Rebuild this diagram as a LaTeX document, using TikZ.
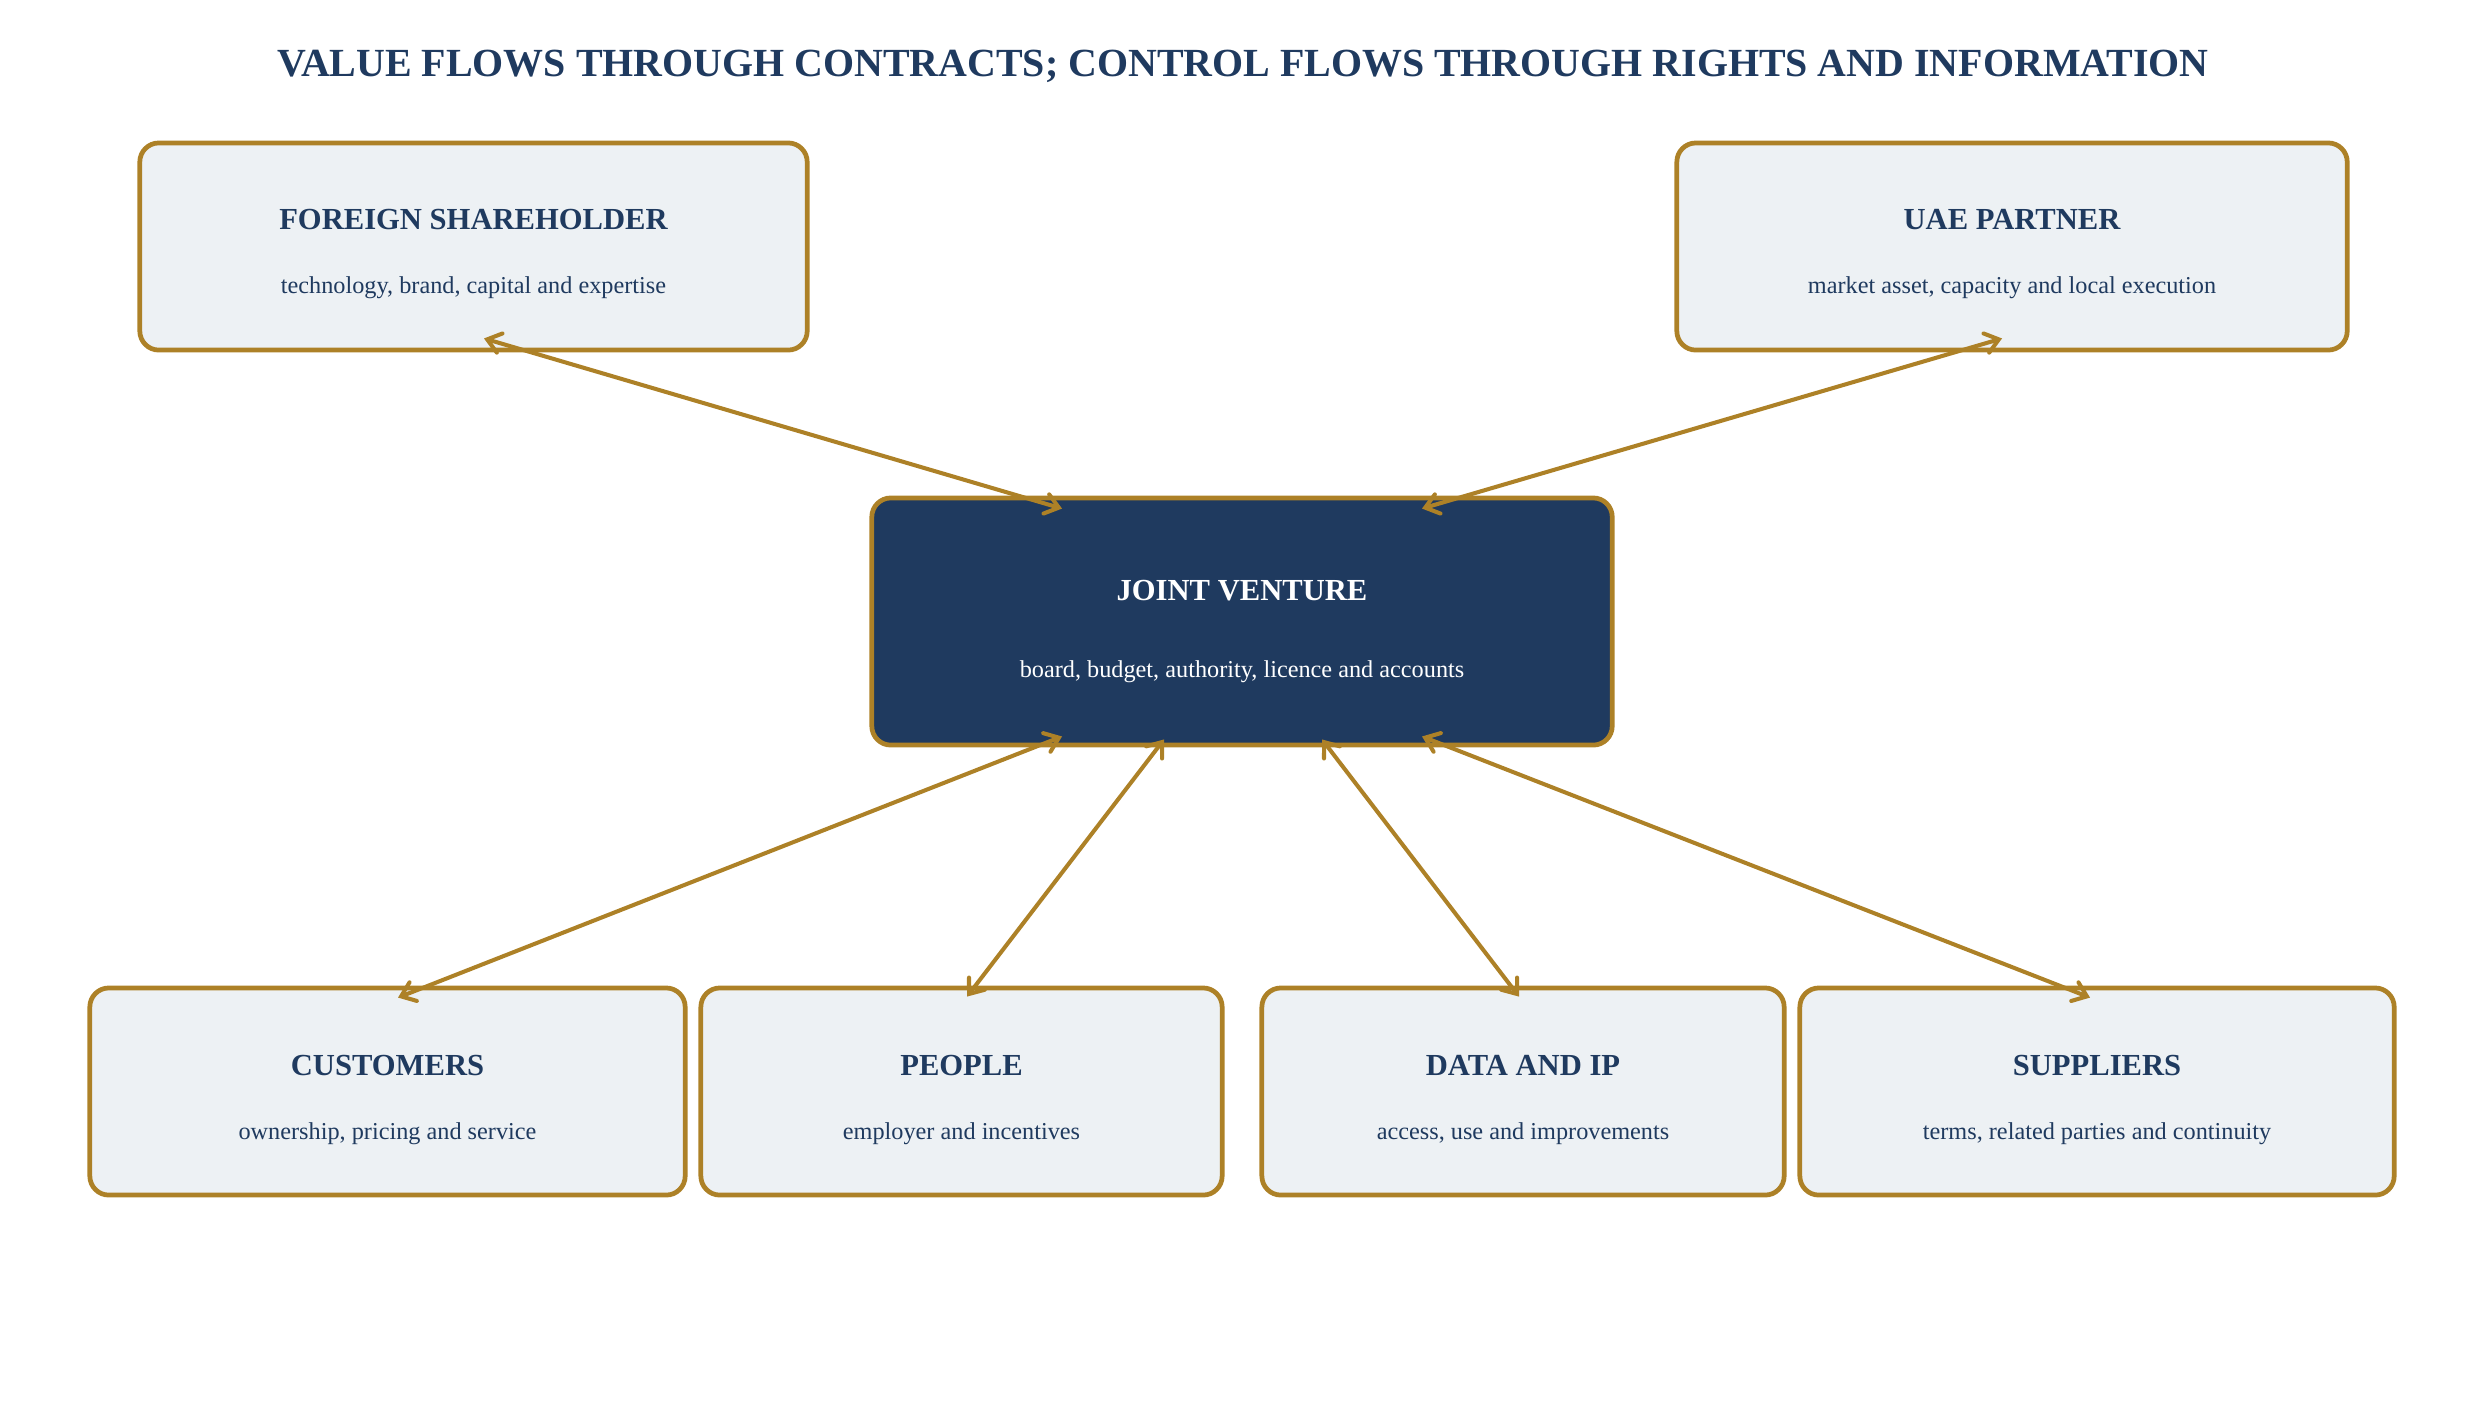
\documentclass[tikz,border=0pt]{standalone}
\usepackage{fontspec}
\setmainfont{Liberation Serif}
\usepackage{xcolor}
\usepackage{tikz}
\usetikzlibrary{positioning,calc,arrows.meta}

\definecolor{navy}{HTML}{1F3A5F}
\definecolor{gold}{HTML}{AD8127}
\definecolor{paleblue}{HTML}{EDF1F4}

\begin{document}
\begin{tikzpicture}[x=0.01cm, y=-0.01cm,
    partybox/.style={draw=gold, line width=1.35pt, rounded corners=0.19cm, fill=paleblue, inner sep=0pt, minimum height=2.07cm},
    jvbox/.style={partybox, fill=navy, minimum width=7.4cm, minimum height=2.47cm},
    boxtitle/.style={text=navy, font=\fontsize{8.7}{10}\selectfont\bfseries},
    boxsub/.style={text=navy, font=\fontsize{6.9}{8}\selectfont},
    flow/.style={draw=gold, line width=1.15pt, {Straight Barb[length=1.3mm,width=2mm,line cap=round]}-{Straight Barb[length=1.3mm,width=2mm,line cap=round]}}]
    \useasboundingbox (0,0) rectangle (2486,1408);

    \node[text=navy, font=\fontsize{11.35}{13}\selectfont\bfseries] (title) at (1243,66) {VALUE FLOWS THROUGH CONTRACTS; CONTROL FLOWS THROUGH RIGHTS AND INFORMATION};

    % shareholders
    \node[partybox, minimum width=6.67cm] (fs) at (473.5,246.5) {};
    \node[boxtitle] (fsT) at ($(fs.center)+(0,-26.5)$) {FOREIGN SHAREHOLDER};
    \node[boxsub] (fsS) at ($(fs.center)+(0,41.5)$) {technology, brand, capital and expertise};

    \node[partybox, minimum width=6.7cm] (uae) at (2012,246.5) {};
    \node[boxtitle] (uaeT) at ($(uae.center)+(0,-26.5)$) {UAE PARTNER};
    \node[boxsub] (uaeS) at ($(uae.center)+(0,41.5)$) {market asset, capacity and local execution};

    % the JV itself
    \node[jvbox] (jv) at (1242,621.5) {};
    \node[boxtitle, text=white] (jvT) at ($(jv.center)+(0,-31)$) {JOINT VENTURE};
    \node[boxsub, text=white] (jvS) at ($(jv.center)+(0,50.5)$) {board, budget, authority, licence and accounts};

    % bottom row
    \node[partybox, minimum width=5.95cm] (cust) at (387.5,1091.5) {};
    \node[boxtitle] (custT) at ($(cust.center)+(0,-26)$) {CUSTOMERS};
    \node[boxsub] (custS) at ($(cust.center)+(0,42.5)$) {ownership, pricing and service};

    \node[partybox, minimum width=5.21cm] (ppl) at (961.5,1091.5) {};
    \node[boxtitle] (pplT) at ($(ppl.center)+(0,-26)$) {PEOPLE};
    \node[boxsub] (pplS) at ($(ppl.center)+(0,42.5)$) {employer and incentives};

    \node[partybox, minimum width=5.22cm] (data) at (1523,1091.5) {};
    \node[boxtitle] (dataT) at ($(data.center)+(0,-26)$) {DATA AND IP};
    \node[boxsub] (dataS) at ($(data.center)+(0,42.5)$) {access, use and improvements};

    \node[partybox, minimum width=5.94cm] (sup) at (2097,1091.5) {};
    \node[boxtitle] (supT) at ($(sup.center)+(0,-26)$) {SUPPLIERS};
    \node[boxsub] (supS) at ($(sup.center)+(0,42.5)$) {terms, related parties and continuity};

    % flows
    \draw[flow] ($(fs.south)+(10.5,-14)$) -- ($(jv.north)+(-180,13)$);
    \draw[flow] ($(uae.south)+(-10,-14)$) -- ($(jv.north)+(180,13)$);
    \draw[flow] ($(jv.south)+(-180,-11)$) -- ($(cust.north)+(10.5,12)$);
    \draw[flow] ($(jv.south)+(-78,-8)$) -- ($(ppl.north)+(5.5,11)$);
    \draw[flow] ($(jv.south)+(80,-8)$) -- ($(data.north)+(-4,11)$);
    \draw[flow] ($(jv.south)+(180,-11)$) -- ($(sup.north)+(-7,12)$);
\end{tikzpicture}
\end{document}
